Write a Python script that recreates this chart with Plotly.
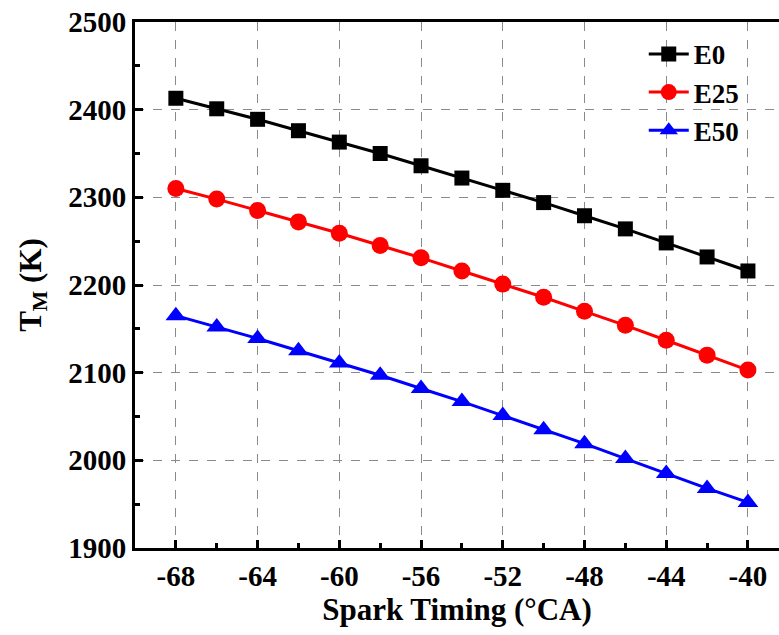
import plotly.graph_objects as go

# Spark timing sweep (°CA) and mean temperature for three blends
spark_timing = [-68, -66, -64, -62, -60, -58, -56, -54, -52, -50, -48, -46, -44, -42, -40]
t_e0 = [2413, 2401, 2389, 2376, 2363, 2350, 2336, 2322, 2308, 2294, 2279, 2264, 2248, 2232, 2216]
t_e25 = [2310, 2298, 2285, 2272, 2259, 2245, 2231, 2216, 2201, 2186, 2170, 2154, 2137, 2120, 2103]
t_e50 = [2165, 2152, 2139, 2125, 2111, 2097, 2082, 2067, 2051, 2035, 2019, 2002, 1985, 1968, 1952]

x_ticks = [-68, -64, -60, -56, -52, -48, -44, -40]
y_ticks = [1900, 2000, 2100, 2200, 2300, 2400, 2500]

FONT = "Liberation Serif, Times New Roman, serif"

series = [
    ("E0", t_e0, "#000000", "square", 15),
    ("E25", t_e25, "#ff0000", "circle", 17),
    ("E50", t_e50, "#0000ff", "triangle-up", 18),
]

fig = go.Figure()
for name, vals, color, symbol, size in series:
    fig.add_trace(go.Scatter(
        x=spark_timing, y=vals, name=name, mode="lines+markers",
        line=dict(color=color, width=3),
        marker=dict(symbol=symbol, size=size, color=color, line=dict(width=0)),
    ))

axis_common = dict(
    showline=True, linecolor="black", linewidth=3,
    ticks="inside", ticklen=8, tickwidth=3, tickcolor="black",
    showgrid=True, gridcolor="#8a8a8a", gridwidth=1, griddash="dash",
    zeroline=False,
    tickfont=dict(family=FONT, size=29, color="black", weight="bold"),
)

fig.update_xaxes(
    **axis_common,
    range=[-70, -38.48], tickvals=x_ticks, ticktext=[str(v) for v in x_ticks],
    minor=dict(tickvals=[v + 2 for v in x_ticks[:-1]] + [-70], ticks="inside",
               ticklen=5, tickwidth=3, tickcolor="black", showgrid=False),
    mirror=True,
    title=dict(text="Spark Timing (°CA)", standoff=8,
               font=dict(family=FONT, size=31, color="black", weight="bold")),
)
fig.update_yaxes(
    **axis_common,
    range=[1900, 2500], tickvals=y_ticks,
    minor=dict(tickvals=[v + 50 for v in y_ticks[:-1]], ticks="inside",
               ticklen=5, tickwidth=3, tickcolor="black", showgrid=False),
    title=dict(text="T<sub>M</sub> (K)", standoff=18,
               font=dict(family=FONT, size=31, color="black", weight="bold")),
)

fig.update_layout(
    width=779, height=635,
    margin=dict(l=135, r=0, t=22, b=87),
    paper_bgcolor="white", plot_bgcolor="white",
    showlegend=True,
    legend=dict(
        x=0.79, y=0.985, xanchor="left", yanchor="top",
        bgcolor="rgba(0,0,0,0)",
        font=dict(family=FONT, size=27, color="black", weight="bold"),
        itemwidth=40,
    ),
)

fig.write_html("out.html")
